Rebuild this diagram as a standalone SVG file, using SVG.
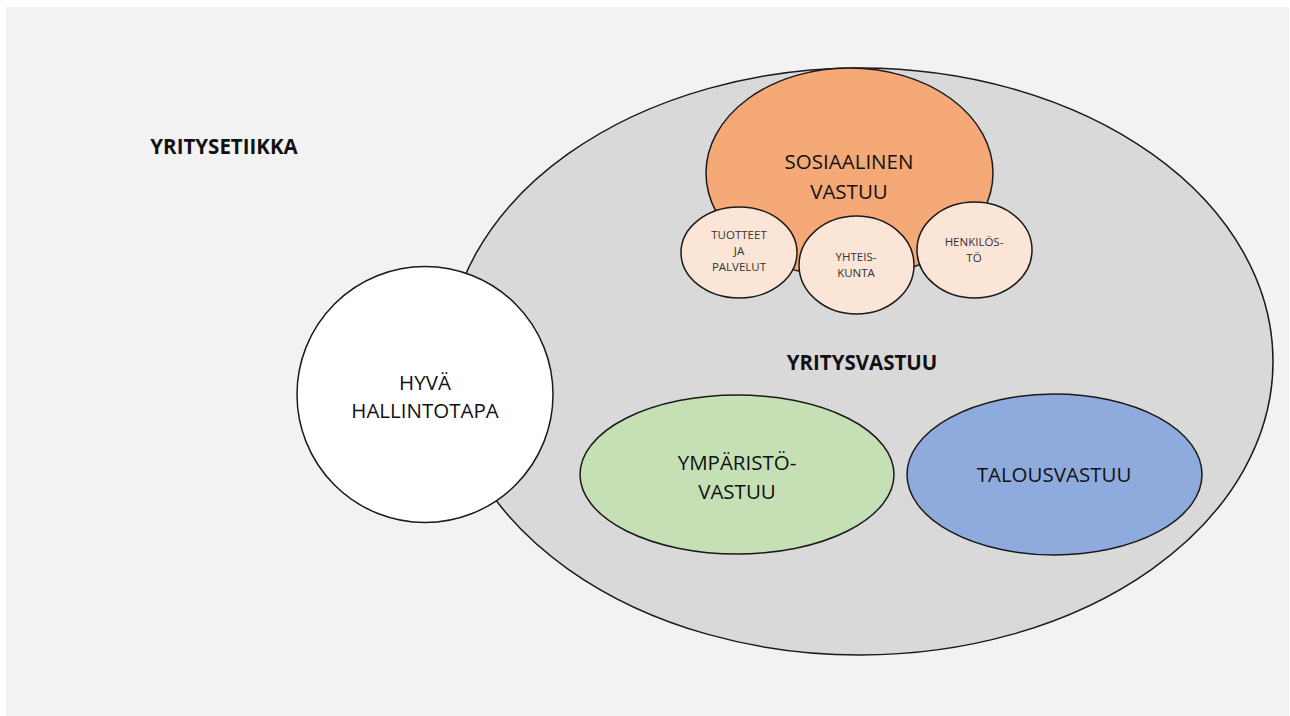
<svg xmlns="http://www.w3.org/2000/svg" width="1290" height="716" viewBox="0 0 1290 716">
<style>
.o{stroke:#1a1a1a;stroke-width:1.5}
.t{font-family:"Open Sans","Liberation Sans",sans-serif;fill:#111;text-anchor:middle}
.l{font-size:20.5px}
.s{font-size:11.5px;fill:#333}
.b{font-weight:bold;font-size:20.5px}
</style>
<rect x="0" y="0" width="1290" height="716" fill="#ffffff"/>
<rect x="6" y="7" width="1283" height="709" fill="#f2f2f2"/>
<text class="t b" x="224" y="154">YRITYSETIIKKA</text>
<g id="yritysvastuu">
<ellipse class="o" cx="860" cy="361.5" rx="413" ry="293.5" fill="#d9d9d9"/>
<text class="t b" x="862" y="370">YRITYSVASTUU</text>
</g>
<g id="sosiaalinen">
<ellipse class="o" cx="849.5" cy="173" rx="143.5" ry="105" fill="#f4a976"/>
<text class="t l" x="849" y="169">SOSIAALINEN</text>
<text class="t l" x="849" y="199">VASTUU</text>
</g>
<g id="tuotteet">
<ellipse class="o" cx="739" cy="252.5" rx="58" ry="45.5" fill="#fbe5d6"/>
<text class="t s" x="739" y="239">TUOTTEET</text>
<text class="t s" x="739" y="255">JA</text>
<text class="t s" x="739" y="271">PALVELUT</text>
</g>
<g id="yhteiskunta">
<ellipse class="o" cx="856.5" cy="265" rx="57.5" ry="49" fill="#fbe5d6"/>
<text class="t s" x="856" y="261">YHTEIS-</text>
<text class="t s" x="856" y="277">KUNTA</text>
</g>
<g id="henkilosto">
<ellipse class="o" cx="974.5" cy="250" rx="57.5" ry="48" fill="#fbe5d6"/>
<text class="t s" x="974" y="246">HENKILÖS-</text>
<text class="t s" x="974" y="262">TÖ</text>
</g>
<g id="hallintotapa">
<circle class="o" cx="425" cy="394.5" r="128" fill="#ffffff"/>
<text class="t l" x="425" y="390">HYVÄ</text>
<text class="t l" x="425" y="418">HALLINTOTAPA</text>
</g>
<g id="ymparisto">
<ellipse class="o" cx="737" cy="474.5" rx="157" ry="79.5" fill="#c5e0b4"/>
<text class="t l" x="737" y="470">YMPÄRISTÖ-</text>
<text class="t l" x="737" y="499">VASTUU</text>
</g>
<g id="talous">
<ellipse class="o" cx="1054.5" cy="474.5" rx="147.5" ry="80.5" fill="#8faadc"/>
<text class="t l" x="1054" y="482">TALOUSVASTUU</text>
</g>
<g id="connectors"/>
</svg>
